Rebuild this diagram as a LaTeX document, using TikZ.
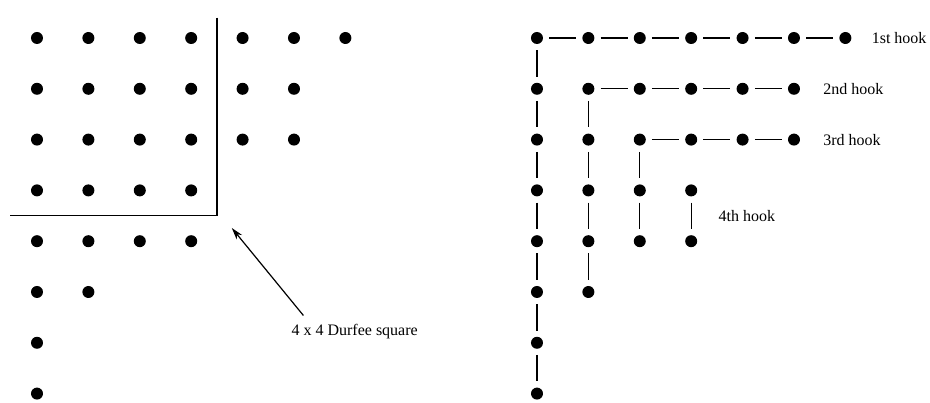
\documentclass[tikz,border=0pt]{standalone}
\usepackage{fontspec}
\setmainfont{Liberation Serif}
\usepackage{tikz}
\usetikzlibrary{positioning,arrows.meta}

\begin{document}
\begin{tikzpicture}[x=51.4pt,y=-50.8pt,
		dot/.style={circle,fill=black,inner sep=0pt,minimum size=12pt},
		hookline/.style={draw,line width=1.2pt,shorten >=6pt,shorten <=6pt},
		rule/.style={line width=1.3pt},
		pointer/.style={line width=1.2pt,-{Stealth[length=12pt,width=7pt]}},
		hooklbl/.style={inner sep=0pt,font=\fontsize{16}{19}\selectfont}]
	\useasboundingbox (-0.7198,-0.748) rectangle (17.374,7.185);
	% Ferrers diagram of 7+6+6+4+4+2+1+1
	\foreach \r/\len in {0/7,1/6,2/6,3/4,4/4,5/2,6/1,7/1} \foreach \c in {1,...,\len}
		\node[dot] (f-\r-\c) at (\c-1,\r) {};
	% Durfee square
	\draw[rule] (3.5,-0.4) -- (3.5,3.5) -- (-0.53,3.5);
	\coordinate (durfeecorner) at (3.79,3.74);
	\node[hooklbl,anchor=north west] (durfeelbl) at (4.95,5.64) {4 x 4 Durfee square};
	\draw[pointer] ([xshift=12pt,yshift=9pt]durfeelbl.north west) -- (durfeecorner);
	% Same diagram cut into hooks
	\begin{scope}[xshift=500pt]
		\foreach \r/\len in {0/7,1/6,2/6,3/4,4/4,5/2,6/1,7/1} \foreach \c in {1,...,\len}
			\node[dot] (h-\r-\c) at (\c-1,\r) {};
		% arms
		\foreach \r/\a/\b in {0/1/6,1/2/5,2/3/5}
			\foreach \c in {\a,...,\b}{
				\pgfmathtruncatemacro{\nxt}{\c+1}
				\path[hookline] (h-\r-\c) -- (h-\r-\nxt);}
		% legs
		\foreach \c/\a/\b in {1/0/6,2/1/4,3/2/3,4/3/3}
			\foreach \r in {\a,...,\b}{
				\pgfmathtruncatemacro{\nxt}{\r+1}
				\path[hookline] (h-\r-\c) -- (h-\nxt-\c);}
		% labels
		\node[hooklbl,right=20pt of h-0-7] (lbl1) {1st hook};
		\node[hooklbl,right=23pt of h-1-6] (lbl2) {2nd hook};
		\node[hooklbl,right=23pt of h-2-6] (lbl3) {3rd hook};
		\node[hooklbl,anchor=west] (lbl4) at (3.53,3.5) {4th hook};
	\end{scope}
\end{tikzpicture}
\end{document}
